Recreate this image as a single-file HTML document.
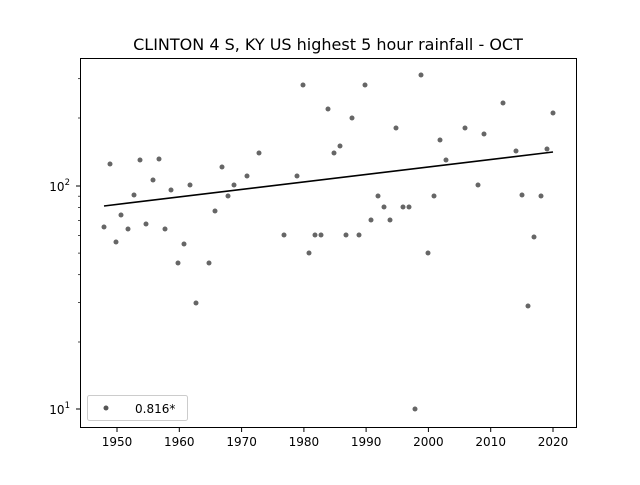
<!DOCTYPE html>
<html><head><meta charset="utf-8"><style>
body{margin:0;background:#fff;}
svg text{font-family:"DejaVu Sans","Liberation Sans",sans-serif;}
</style></head><body>
<svg width="640" height="480" xmlns="http://www.w3.org/2000/svg">
<rect width="640" height="480" fill="#fff"/>
<text x="328" y="50" font-size="16" text-anchor="middle">CLINTON 4 S, KY US highest 5 hour rainfall - OCT</text>
<g fill="#555" fill-opacity="0.9">
<circle cx="104" cy="227" r="2.5"/><circle cx="110" cy="164" r="2.5"/><circle cx="116" cy="242" r="2.5"/><circle cx="121" cy="215" r="2.5"/><circle cx="128" cy="229" r="2.5"/><circle cx="134" cy="195" r="2.5"/><circle cx="140" cy="160" r="2.5"/><circle cx="146" cy="224" r="2.5"/><circle cx="153" cy="180" r="2.5"/><circle cx="159" cy="159" r="2.5"/><circle cx="165" cy="229" r="2.5"/><circle cx="171" cy="190" r="2.5"/><circle cx="178" cy="263" r="2.5"/><circle cx="184" cy="244" r="2.5"/><circle cx="190" cy="185" r="2.5"/><circle cx="196" cy="303" r="2.5"/><circle cx="209" cy="263" r="2.5"/><circle cx="215" cy="211" r="2.5"/><circle cx="222" cy="167" r="2.5"/><circle cx="228" cy="196" r="2.5"/><circle cx="234" cy="185" r="2.5"/><circle cx="247" cy="176" r="2.5"/><circle cx="259" cy="153" r="2.5"/><circle cx="284" cy="235" r="2.5"/><circle cx="297" cy="176" r="2.5"/><circle cx="303" cy="85" r="2.5"/><circle cx="309" cy="253" r="2.5"/><circle cx="315" cy="235" r="2.5"/><circle cx="321" cy="235" r="2.5"/><circle cx="328" cy="109" r="2.5"/><circle cx="334" cy="153" r="2.5"/><circle cx="340" cy="146" r="2.5"/><circle cx="346" cy="235" r="2.5"/><circle cx="352" cy="118" r="2.5"/><circle cx="359" cy="235" r="2.5"/><circle cx="365" cy="85" r="2.5"/><circle cx="371" cy="220" r="2.5"/><circle cx="378" cy="196" r="2.5"/><circle cx="384" cy="207" r="2.5"/><circle cx="390" cy="220" r="2.5"/><circle cx="396" cy="128" r="2.5"/><circle cx="403" cy="207" r="2.5"/><circle cx="409" cy="207" r="2.5"/><circle cx="415" cy="409" r="2.5"/><circle cx="421" cy="75" r="2.5"/><circle cx="428" cy="253" r="2.5"/><circle cx="434" cy="196" r="2.5"/><circle cx="440" cy="140" r="2.5"/><circle cx="446" cy="160" r="2.5"/><circle cx="465" cy="128" r="2.5"/><circle cx="478" cy="185" r="2.5"/><circle cx="484" cy="134" r="2.5"/><circle cx="503" cy="103" r="2.5"/><circle cx="516" cy="151" r="2.5"/><circle cx="522" cy="195" r="2.5"/><circle cx="528" cy="306" r="2.5"/><circle cx="534" cy="237" r="2.5"/><circle cx="541" cy="196" r="2.5"/><circle cx="547" cy="149" r="2.5"/><circle cx="553" cy="113" r="2.5"/>
</g>
<line x1="104" y1="206" x2="553" y2="152" stroke="#000" stroke-width="1.6"/>
<rect x="80.5" y="58.5" width="496" height="369" fill="none" stroke="#000" stroke-width="1"/>
<g stroke="#000" stroke-width="1">
<line x1="117" y1="428" x2="117" y2="432"/><line x1="179.3" y1="428" x2="179.3" y2="432"/><line x1="241.6" y1="428" x2="241.6" y2="432"/><line x1="303.9" y1="428" x2="303.9" y2="432"/><line x1="366.1" y1="428" x2="366.1" y2="432"/><line x1="428.4" y1="428" x2="428.4" y2="432"/><line x1="490.7" y1="428" x2="490.7" y2="432"/><line x1="553" y1="428" x2="553" y2="432"/>
<line x1="76" y1="186" x2="80" y2="186"/><line x1="76" y1="409" x2="80" y2="409"/>
</g>
<g stroke="#000" stroke-width="0.7">
<line x1="78" y1="342" x2="80" y2="342"/><line x1="78" y1="302.6" x2="80" y2="302.6"/><line x1="78" y1="274.7" x2="80" y2="274.7"/><line x1="78" y1="253.1" x2="80" y2="253.1"/><line x1="78" y1="235.5" x2="80" y2="235.5"/><line x1="78" y1="220.5" x2="80" y2="220.5"/><line x1="78" y1="207.6" x2="80" y2="207.6"/><line x1="78" y1="196.2" x2="80" y2="196.2"/><line x1="78" y1="118" x2="80" y2="118"/><line x1="78" y1="78.7" x2="80" y2="78.7"/>
</g>
<g font-size="12" text-anchor="middle">
<text x="117" y="446">1950</text><text x="179.3" y="446">1960</text><text x="241.6" y="446">1970</text><text x="303.9" y="446">1980</text><text x="366.1" y="446">1990</text><text x="428.4" y="446">2000</text><text x="490.7" y="446">2010</text><text x="553" y="446">2020</text>
</g>
<g font-size="12" text-anchor="end">
<text x="70" y="191">10<tspan font-size="8.5" dy="-6">2</tspan></text>
<text x="70" y="414">10<tspan font-size="8.5" dy="-6">1</tspan></text>
</g>
<rect x="87.5" y="395.5" width="100" height="25" rx="2" fill="#fff" stroke="#ccc"/>
<circle cx="106" cy="408" r="2.5" fill="#555"/>
<text x="135" y="413" font-size="12">0.816*</text>
</svg>
</body></html>
